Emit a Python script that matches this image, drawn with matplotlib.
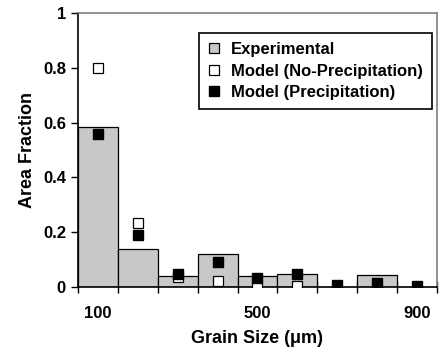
import numpy as np
import matplotlib.pyplot as plt
from matplotlib.lines import Line2D

plt.rcParams['font.family'] = ['Liberation Sans', 'DejaVu Sans']
plt.rcParams['font.weight'] = 'bold'

grain_size = [100, 200, 300, 400, 500, 600, 700, 800, 900]
experimental = [0.583, 0.138, 0.040, 0.121, 0.040, 0.048, 0.0, 0.044, 0.0]
model_no_precip = [0.80, 0.234, 0.037, 0.021, 0.002, 0.005, np.nan, np.nan, np.nan]
model_precip = [0.559, 0.189, 0.049, 0.093, 0.033, 0.046, 0.009, 0.015, 0.002]
tick_labels = {100: '100', 500: '500', 900: '900'}

fig = plt.figure(figsize=(4.42, 3.55), dpi=100)
ax = fig.add_axes([0.176, 0.1915, 0.813, 0.7715])

x = np.arange(len(grain_size))
ax.bar(x, experimental, width=1.0, color='#c8c8c8', edgecolor='black', linewidth=0.9, zorder=2)
ax.plot(x, model_no_precip, 's', ms=7.5, mfc='white', mec='black', mew=0.9, ls='none', zorder=3)
ax.plot(x, model_precip, 's', ms=7, mfc='black', mec='black', ls='none', zorder=4)

ax.set_xlim(-0.5, len(grain_size) - 0.5)
ax.set_ylim(0, 1)
ax.set_yticks([0, 0.2, 0.4, 0.6, 0.8, 1])
ax.set_yticklabels(['0', '0.2', '0.4', '0.6', '0.8', '1'], fontsize=12, fontweight='bold')
ax.set_xticks(np.arange(len(grain_size) + 1) - 0.5)
ax.set_xticklabels([])
ax.set_xticks(x, minor=True)
ax.set_xticklabels([tick_labels.get(g, '') for g in grain_size], minor=True,
                   fontsize=12, fontweight='bold')
ax.tick_params(axis='x', which='minor', length=0, pad=14)
ax.tick_params(axis='x', which='major', direction='inout', length=8, width=1)
ax.tick_params(axis='y', direction='out', length=5, width=1)

for s in ['top', 'right']:
    ax.spines[s].set_color('#808080')
    ax.spines[s].set_linewidth(1.2)
for s in ['left', 'bottom']:
    ax.spines[s].set_linewidth(1.2)

ax.set_xlabel('Grain Size (\u03bcm)', fontsize=13, fontweight='bold', labelpad=6)
ax.set_ylabel('Area Fraction', fontsize=13, fontweight='bold', labelpad=5)

handles = [
    Line2D([], [], marker='s', ls='none', ms=7, mfc='#c8c8c8', mec='black', mew=0.9),
    Line2D([], [], marker='s', ls='none', ms=7, mfc='white', mec='black', mew=0.9),
    Line2D([], [], marker='s', ls='none', ms=7, mfc='black', mec='black'),
]
leg = ax.legend(handles, ['Experimental', 'Model (No-Precipitation)', 'Model (Precipitation)'],
                loc='upper right', bbox_to_anchor=(0.986, 0.927), fancybox=False,
                edgecolor='black', fontsize=12, handlelength=0.8, handletextpad=0.6,
                borderpad=0.55, labelspacing=0.38, framealpha=1, borderaxespad=0)
leg.get_frame().set_linewidth(1.2)

fig.savefig('out.png', dpi=100)
